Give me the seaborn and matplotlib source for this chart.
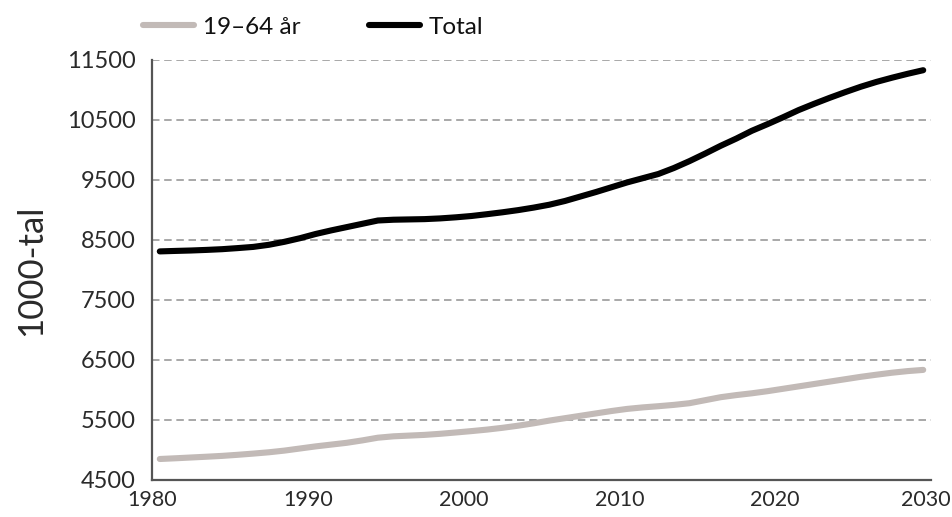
import numpy as np
import pandas as pd
import matplotlib
matplotlib.use("Agg")
import matplotlib.pyplot as plt
import matplotlib.transforms as mtransforms
import seaborn as sns

# Population, thousands, per year
years = list(range(1980, 2030))
total = [
    8310, 8318, 8325, 8335, 8347, 8365, 8385, 8420, 8470, 8530,
    8600, 8660, 8715, 8770, 8825, 8838, 8843, 8848, 8860, 8878,
    8900, 8930, 8962, 8998, 9040, 9088, 9150, 9225, 9300, 9380,
    9460, 9530, 9600, 9700, 9815, 9940, 10070, 10190, 10320, 10430,
    10545, 10665, 10770, 10870, 10965, 11055, 11135, 11205, 11270, 11330,
]
age_19_64 = [
    4850, 4862, 4875, 4888, 4902, 4920, 4940, 4962, 4990, 5025,
    5060, 5090, 5120, 5160, 5205, 5228, 5240, 5252, 5270, 5292,
    5315, 5340, 5370, 5405, 5445, 5490, 5530, 5570, 5610, 5650,
    5685, 5710, 5730, 5752, 5780, 5830, 5880, 5915, 5945, 5980,
    6020, 6060, 6100, 6140, 6180, 6220, 6255, 6288, 6315, 6335,
]
series_names = ["19–64 år", "Total"]
series_colors = ["#c2bab7", "#000000"]
y_ticks = list(range(4500, 11501, 1000))
x_ticks = list(range(1980, 2031, 10))

df = pd.DataFrame({
    "year": years * 2,
    "value": age_19_64 + total,
    "series": [series_names[0]] * len(years) + [series_names[1]] * len(years),
})
# each yearly value sits in the middle of its year interval
df["pos"] = df["year"] + 0.5

sns.set_style("white")
plt.rcParams["font.family"] = ["Lato", "DejaVu Sans"]

fig = plt.figure(figsize=(9.53, 5.17), dpi=100)
ax = fig.add_axes([152 / 953, 1 - 480 / 517, (931 - 152) / 953, (480 - 60) / 517])

sns.lineplot(
    data=df, x="pos", y="value", hue="series",
    palette=dict(zip(series_names, series_colors)),
    hue_order=series_names, linewidth=4.4, ax=ax, legend=False,
    solid_capstyle="round",
)

ax.set_xlim(1980, 2030)
ax.set_ylim(4500, 11500)
ax.set_yticks(y_ticks)
ax.set_yticklabels([str(v) for v in y_ticks])
ax.set_xticks(x_ticks)
ax.set_xticklabels([str(v) for v in x_ticks])
ax.set_xticks(range(1980, 2031), minor=True)

ax.yaxis.grid(True, color="#9a9a9a", linewidth=1.2, linestyle=(0, (4.5, 2.8)))
ax.set_axisbelow(True)
for side in ("top", "right"):
    ax.spines[side].set_visible(False)
for side in ("left", "bottom"):
    ax.spines[side].set_color("#555555")
    ax.spines[side].set_linewidth(1.6)

ax.tick_params(axis="y", length=0, pad=12, labelsize=17, labelcolor="#2a2a2a")
ax.tick_params(axis="x", which="both", direction="in", length=6, width=1.1,
               color="#555555", pad=7, labelsize=15.5, labelcolor="#2a2a2a")

# keep the last year label inside the figure edge
last = ax.get_xticklabels()[-1]
last.set_transform(last.get_transform() +
                   mtransforms.ScaledTranslation(-5 / 100, 0, fig.dpi_scale_trans))

ax.set_xlabel("")
ax.set_ylabel("1000-tal", fontsize=25, color="#2a2a2a", labelpad=14)

handles = [
    plt.Line2D([], [], color=c, linewidth=4.4, solid_capstyle="round")
    for c in series_colors
]
fig.legend(
    handles, series_names, loc="center left",
    bbox_to_anchor=(143 / 953, 1 - 27 / 517), ncol=2, frameon=False,
    borderpad=0, borderaxespad=0, handlelength=2.1, handletextpad=0.35,
    columnspacing=2.85, fontsize=17.5, labelcolor="#111111",
)

fig.savefig("out.png", dpi=100)
